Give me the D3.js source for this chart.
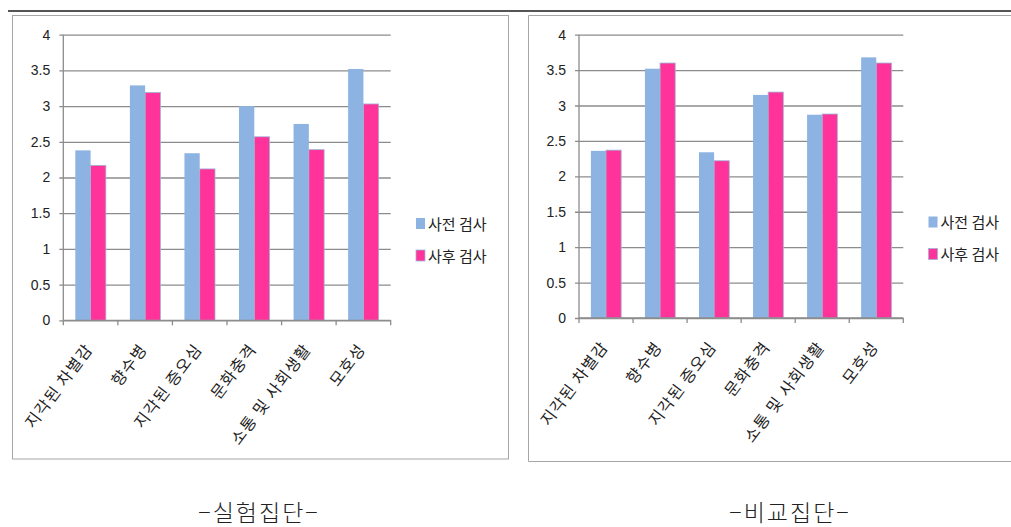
<!DOCTYPE html>
<html><head><meta charset="utf-8">
<script src="https://cdn.jsdelivr.net/npm/d3@7"></script>
<style>
html,body{margin:0;padding:0;background:#fff;}
svg{display:block;}
</style></head>
<body>
<svg id="c" width="1011" height="527"></svg>
<script>
const categories = ["지각된 차별감","향수병","지각된 증오심","문화충격","소통 및 사회생활","모호성"];
const seriesNames = ["사전 검사","사후 검사"];
const expPre  = [2.38,3.29,2.34,3.00,2.75,3.52];
const expPost = [2.17,3.19,2.12,2.57,2.39,3.03];
const ctlPre  = [2.36,3.52,2.34,3.15,2.87,3.68];
const ctlPost = [2.37,3.60,2.22,3.19,2.88,3.60];
const yTicks = [0,0.5,1,1.5,2,2.5,3,3.5,4];
const yTickLabels = ["0","0.5","1","1.5","2","2.5","3","3.5","4"];
const captions = ["−실험집단−","−비교집단−"];
const colors = ["#8DB3E2","#FF3399"];

const svg = d3.select("#c");

// top rule
svg.append("line").attr("x1",8).attr("x2",1011).attr("y1",11).attr("y2",11)
  .attr("stroke","#555").attr("stroke-width",2);

// frames
svg.append("rect").attr("x",12.5).attr("y",15.5).attr("width",496).attr("height",443.5)
  .attr("fill","none").attr("stroke","#a6a6a6").attr("stroke-width",1);
svg.append("path").attr("d","M1011,15.5H528.5V461.5H1011")
  .attr("fill","none").attr("stroke","#a6a6a6").attr("stroke-width",1);

function drawChart(cfg, pre, post, caption){
  const g = svg.append("g").attr("transform",`translate(${cfg.x},${cfg.y})`);
  const W = cfg.w, H = cfg.h;
  const y = d3.scaleLinear().domain([0,4]).range([H,0]);
  const x0 = d3.scaleBand().domain(categories).range([0,W]).paddingInner(0.44).paddingOuter(0.22);
  const x1 = d3.scaleBand().domain(seriesNames).range([0,x0.bandwidth()]);
  const step = x0.step();

  // gridlines + y axis
  const yAxis = d3.axisLeft(y).tickValues(yTicks).tickFormat((d,i)=>yTickLabels[i])
    .tickSize(-W).tickPadding(13);
  const ya = g.append("g").call(yAxis);
  ya.select(".domain").remove();
  ya.selectAll(".tick line").attr("stroke","#8c8c8c").attr("stroke-width",1.3).attr("x1",-4);
  ya.selectAll(".tick text").attr("font-family","'Liberation Sans', Arial, sans-serif")
    .attr("font-size",14).attr("fill","#222");

  // bars
  const rows = categories.map((c,i)=>({c, vals:[pre[i],post[i]]}));
  const grp = g.selectAll(".grp").data(rows).join("g")
    .attr("transform",d=>`translate(${x0(d.c)},0)`);
  grp.selectAll("rect").data(d=>d.vals.map((v,j)=>({s:seriesNames[j],v,j}))).join("rect")
    .attr("x",d=>x1(d.s)).attr("width",x1.bandwidth())
    .attr("y",d=>y(d.v)).attr("height",d=>H-y(d.v))
    .attr("fill",d=>colors[d.j])
    .attr("stroke",d=>d.j===1?"#9fb4d8":"none").attr("stroke-width",0.8);

  // y axis line
  g.append("line").attr("x1",0).attr("x2",0).attr("y1",0).attr("y2",H)
    .attr("stroke","#8c8c8c").attr("stroke-width",1.3);

  // x axis
  g.append("line").attr("x1",0).attr("x2",W).attr("y1",H).attr("y2",H)
    .attr("stroke","#8c8c8c").attr("stroke-width",1.3);
  const bounds = d3.range(categories.length+1).map(i=>i*step);
  g.selectAll(".xt").data(bounds).join("line")
    .attr("x1",d=>d).attr("x2",d=>d).attr("y1",H).attr("y2",H+5)
    .attr("stroke","#8c8c8c").attr("stroke-width",1.3);
  g.selectAll(".xl").data(categories).join("text")
    .attr("transform",d=>`translate(${x0(d)+x0.bandwidth()/2+3},${H+29}) rotate(-53)`)
    .attr("text-anchor","end")
    .attr("font-family","'Noto Sans CJK KR', sans-serif")
    .attr("font-size",16).attr("letter-spacing",1.2).attr("fill","#222")
    .text(d=>d);

  // legend (absolute page coords)
  const lg = svg.append("g").attr("transform",`translate(${cfg.lx},${cfg.ly})`);
  seriesNames.forEach((s,i)=>{
    lg.append("rect").attr("x",0).attr("y",i*32).attr("width",9).attr("height",11)
      .attr("fill",colors[i]).attr("stroke",i===1?"#9fb4d8":"none").attr("stroke-width",0.8);
    lg.append("text").attr("x",12).attr("y",i*32+11.5)
      .attr("font-family","'Noto Sans CJK KR', sans-serif")
      .attr("font-size",15).attr("fill","#222").text(s);
  });

  // caption
  svg.append("text").attr("x",cfg.cx).attr("y",521).attr("text-anchor","middle")
    .attr("font-family","'Noto Sans CJK KR', sans-serif").attr("font-weight",300)
    .attr("font-size",23).attr("letter-spacing",2).attr("fill","#222").text(caption);
}

drawChart({x:63.3,y:34.7,w:327.4,h:285.6,lx:416,ly:218,cx:259}, expPre, expPost, captions[0]);
drawChart({x:579,y:34.7,w:324.3,h:283.3,lx:928.5,ly:216.5,cx:790}, ctlPre, ctlPost, captions[1]);
</script>
</body></html>
